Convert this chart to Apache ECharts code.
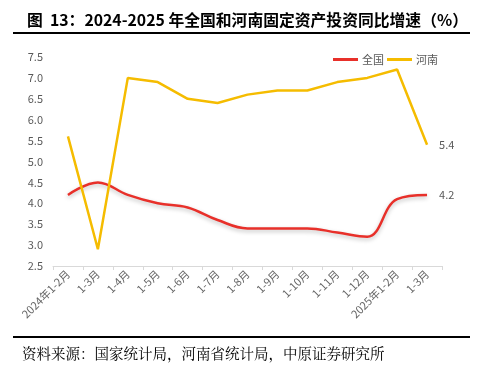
<!DOCTYPE html>
<html><head><meta charset="utf-8">
<script src="https://cdn.jsdelivr.net/npm/echarts@6/dist/echarts.min.js"></script>
<style>html,body{margin:0;padding:0;background:#fff}#c{width:487px;height:373px}</style>
</head><body><div id="c"></div>
<script>
const categories = ['2024年1-2月','1-3月','1-4月','1-5月','1-6月','1-7月','1-8月','1-9月','1-10月','1-11月','1-12月','2025年1-2月','1-3月'];
const national = [4.2, 4.5, 4.2, 4.0, 3.9, 3.6, 3.4, 3.4, 3.4, 3.3, 3.2, 4.1, 4.2];
const henan = [5.6, 2.9, 7.0, 6.9, 6.5, 6.4, 6.6, 6.7, 6.7, 6.9, 7.0, 7.2, 5.4];
const seriesNames = ['全国', '河南'];
const titleText = '图  13：2024-2025 年全国和河南固定资产投资同比增速（%）';
const sourceText = '资料来源：国家统计局，河南省统计局，中原证券研究所';

const endLabel = { show: true, distance: 12, color: '#595959', fontSize: 11,
  formatter: p => Number(p.value).toFixed(1) };

const chart = echarts.init(document.getElementById('c'));
chart.setOption({
  animation: false,
  textStyle: { fontFamily: '"Microsoft YaHei","Noto Sans CJK SC",sans-serif' },
  title: {
    text: titleText, left: 22, top: 7,
    textStyle: { fontSize: 15.8, fontWeight: 'bold', color: '#000', fontFamily: '"Noto Sans CJK SC",sans-serif' }
  },
  legend: {
    right: 44, top: 49, itemWidth: 25, itemHeight: 3, itemGap: 3,
    icon: 'rect',
    textStyle: { fontSize: 11, color: '#595959', padding: [0, 0, 0, -1] },
    data: seriesNames
  },
  grid: { left: 53, right: 45, top: 57, bottom: 107 },
  xAxis: {
    type: 'category', data: categories, boundaryGap: true,
    axisLine: { lineStyle: { color: '#d9d9d9' } },
    axisTick: { show: true, length: 4, lineStyle: { color: '#d9d9d9' } },
    axisLabel: { rotate: 45, fontSize: 11, color: '#666', margin: 6, interval: 0 }
  },
  yAxis: {
    type: 'value', min: 2.5, max: 7.5, interval: 0.5,
    axisLine: { show: false }, axisTick: { show: false }, splitLine: { show: false },
    axisLabel: { fontSize: 11, color: '#595959', formatter: v => v.toFixed(1), margin: 10 }
  },
  series: [
    { name: seriesNames[0], type: 'line', smooth: 0.4, showSymbol: false,
      data: national, endLabel: endLabel,
      lineStyle: { color: '#E8302A', width: 2.5, shadowColor: 'rgba(0,0,0,0.25)', shadowBlur: 4, shadowOffsetY: 2 },
      itemStyle: { color: '#E8302A' } },
    { name: seriesNames[1], type: 'line', showSymbol: false,
      data: henan, endLabel: endLabel,
      lineStyle: { color: '#F5BC00', width: 2.5 },
      itemStyle: { color: '#F5BC00' } }
  ],
  graphic: [
    { type: 'line', shape: { x1: 13, y1: 33, x2: 470, y2: 33 }, style: { stroke: '#000', lineWidth: 2 } },
    { type: 'line', shape: { x1: 13, y1: 337, x2: 470, y2: 337 }, style: { stroke: '#000', lineWidth: 2 } },
    { type: 'text', left: 22, top: 346, style: { text: sourceText, fontSize: 14.5, fill: '#000', fontFamily: '"Noto Serif CJK SC","Noto Sans CJK SC",serif' } }
  ]
});
</script></body></html>
